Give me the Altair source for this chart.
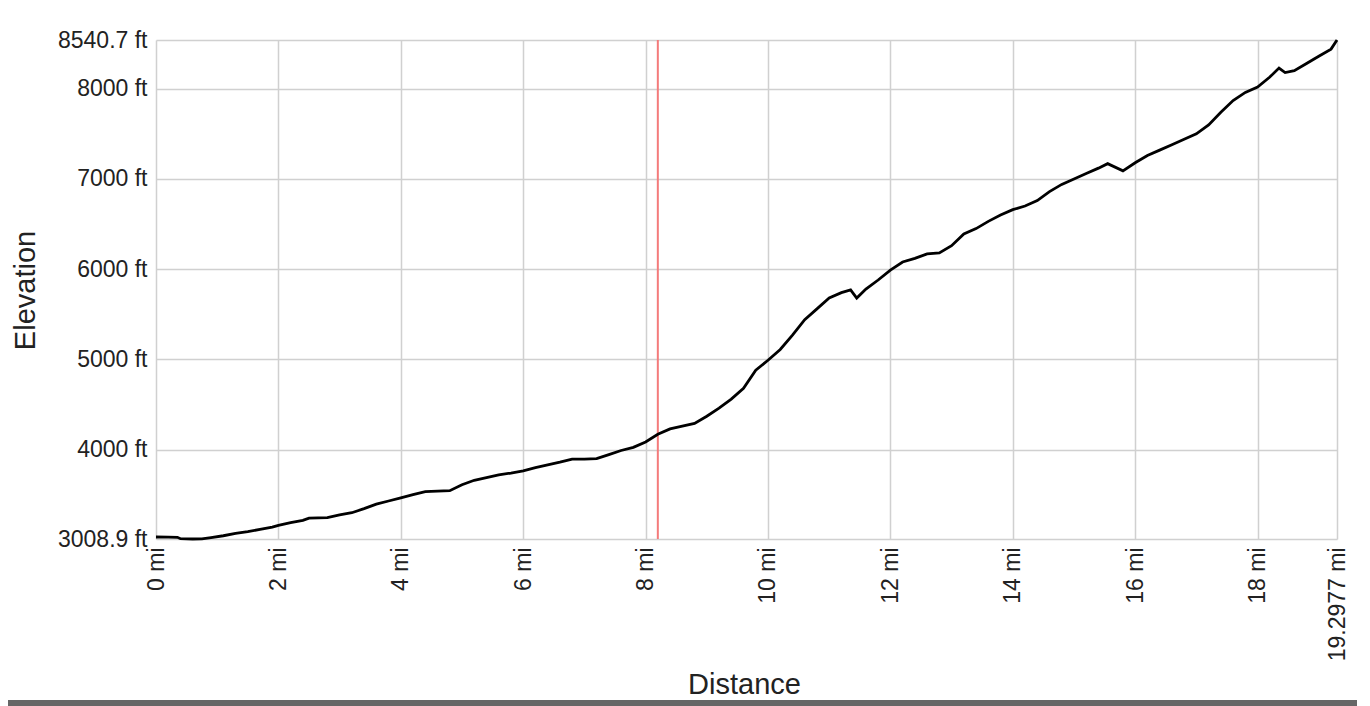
import altair as alt
import pandas as pd

distance_mi = [0.0, 0.2, 0.35, 0.4, 0.6, 0.75, 0.9, 1.1, 1.3, 1.5, 1.7, 1.9, 2.0, 2.2, 2.4, 2.5,
               2.8, 3.0, 3.2, 3.4, 3.6, 3.8, 4.0, 4.2, 4.4, 4.6, 4.8, 5.0, 5.2, 5.4, 5.6, 5.8,
               6.0, 6.2, 6.4, 6.6, 6.8, 7.0, 7.2, 7.4, 7.6, 7.8, 8.0, 8.2, 8.4, 8.6, 8.8, 9.0,
               9.2, 9.4, 9.6, 9.8, 10.0, 10.2, 10.4, 10.6, 10.8, 11.0, 11.2, 11.35, 11.45, 11.6,
               11.8, 12.0, 12.2, 12.4, 12.6, 12.8, 13.0, 13.2, 13.4, 13.6, 13.8, 14.0, 14.2, 14.4,
               14.6, 14.8, 15.0, 15.2, 15.4, 15.55, 15.8, 16.0, 16.2, 16.4, 16.6, 16.8, 17.0, 17.2,
               17.4, 17.6, 17.8, 18.0, 18.2, 18.35, 18.45, 18.6, 18.8, 19.0, 19.2, 19.2977]
elevation_ft = [3031, 3030, 3028, 3012, 3009, 3010, 3025, 3045, 3070, 3090, 3115, 3140, 3160, 3190, 3215, 3240,
                3245, 3275, 3300, 3345, 3395, 3430, 3465, 3500, 3535, 3540, 3545, 3610, 3660, 3690, 3720, 3740,
                3765, 3800, 3830, 3860, 3895, 3895, 3900, 3945, 3990, 4025, 4085, 4170, 4230, 4260, 4290, 4370,
                4460, 4560, 4680, 4880, 4990, 5110, 5270, 5440, 5560, 5680, 5740, 5770, 5680, 5780,
                5880, 5990, 6080, 6120, 6170, 6180, 6260, 6390, 6450, 6530, 6600, 6660, 6700, 6760,
                6860, 6940, 7000, 7060, 7120, 7170, 7090, 7180, 7260, 7320, 7380, 7440, 7500, 7600,
                7740, 7870, 7960, 8020, 8130, 8230, 8180, 8200, 8280, 8360, 8440, 8540.7]

x_ticks = [0, 2, 4, 6, 8, 10, 12, 14, 16, 18, 19.2977]
y_ticks = [3008.9, 4000, 5000, 6000, 7000, 8000, 8540.7]
cursor_mi = [8.2]

FONT = "Liberation Sans"

df = pd.DataFrame({"dist": distance_mi, "elev": elevation_ft})
cur = pd.DataFrame({"dist": cursor_mi})

x_scale = alt.Scale(domain=[0, 19.2977], nice=False, zero=False)
y_scale = alt.Scale(domain=[3008.9, 8540.7], nice=False, zero=False)

x_axis = alt.Axis(values=x_ticks, labelExpr="datum.value + ' mi'", labelAngle=-90,
                  labelFontSize=23, labelFont=FONT, labelColor="#222", labelPadding=8,
                  labelOverlap=False, labelFlush=False, labelBound=False,
                  domain=False, ticks=False, grid=True, gridColor="#d0d0d0", gridWidth=1.5,
                  title="Distance", titleFont=FONT, titleFontSize=29, titleFontWeight="normal",
                  titleColor="#222", titleX=588, titleY=145, titleAnchor="middle",
                  titleAlign="center", titleBaseline="middle")
y_axis = alt.Axis(values=y_ticks, labelExpr="datum.value + ' ft'",
                  labelFontSize=23, labelFont=FONT, labelColor="#222", labelPadding=9,
                  labelOverlap=False, labelFlush=False, labelBound=False,
                  domain=False, ticks=False, grid=True, gridColor="#d0d0d0", gridWidth=1.5,
                  title="Elevation", titleFont=FONT, titleFontSize=29, titleFontWeight="normal",
                  titleColor="#222", titleX=-131, titleY=250, titleAngle=-90,
                  titleAlign="center", titleBaseline="middle")

line = alt.Chart(df).mark_line(color="black", strokeWidth=2.8).encode(
    x=alt.X("dist:Q", scale=x_scale, axis=x_axis),
    y=alt.Y("elev:Q", scale=y_scale, axis=y_axis),
)

rule = alt.Chart(cur).mark_rule(color="#f47b7b", strokeWidth=2).encode(
    x=alt.X("dist:Q", scale=x_scale),
)

bar = alt.Chart(cur).mark_rule(color="#666666", strokeWidth=6).encode(
    x=alt.value(-160), x2=alt.value(1230), y=alt.value(663),
)

chart = alt.layer(rule, line, bar).properties(
    width=1181, height=499,
    autosize=alt.AutoSizeParams(type="none"),
    padding={"left": 148, "top": 32, "right": 20, "bottom": 180},
).configure_view(stroke=None)

chart.save("out.html", embed_options={"renderer": "svg", "actions": False})
